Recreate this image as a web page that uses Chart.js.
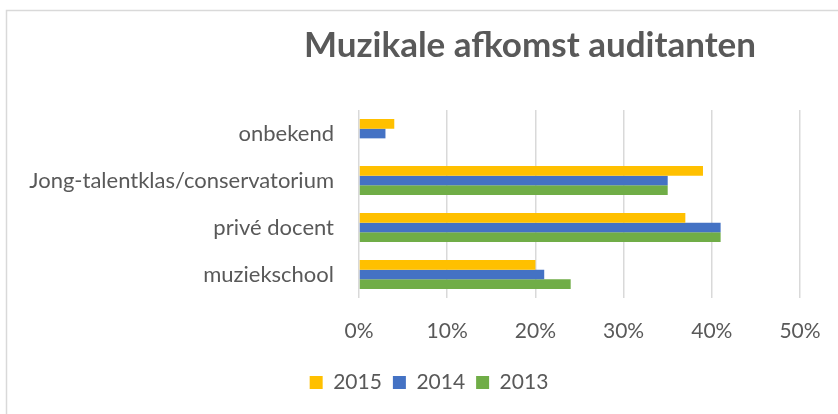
<!DOCTYPE html>
<html>
<head>
<meta charset="utf-8">
<script src="https://cdn.jsdelivr.net/npm/chart.js@4"></script>
<style>
  html, body { margin: 0; padding: 0; background: #fff; }
  #wrap { width: 838px; height: 414px; position: relative; }
</style>
</head>
<body>
<div id="wrap"><canvas id="chart"></canvas></div>
<script>
// categories, top to bottom
const categories = ["onbekend", "Jong-talentklas/conservatorium", "privé docent", "muziekschool"]
const years = ["2015", "2014", "2013"]
const values2015 = [0.04, 0.39, 0.37, 0.20]
const values2014 = [0.03, 0.35, 0.41, 0.21]
const values2013 = [0.00, 0.35, 0.41, 0.24]
const xTicks = [0, 0.1, 0.2, 0.3, 0.4, 0.5]

const titleText = "Muzikale afkomst auditanten"
const grey = "#595959"
const font = "Lato, 'Open Sans', sans-serif"

// frame + title drawn by hand (title sits off-centre in the original)
const decor = {
  id: "decor",
  beforeDraw(chart) {
    const ctx = chart.ctx
    ctx.save()
    ctx.strokeStyle = "#d9d9d9"
    ctx.lineWidth = 1.5
    ctx.strokeRect(6.5, 10.5, 1000, 1000)
    ctx.restore()
  },
  afterDraw(chart) {
    const ctx = chart.ctx
    ctx.save()
    ctx.fillStyle = grey
    ctx.font = "bold 35px " + font
    ctx.textAlign = "center"
    ctx.textBaseline = "alphabetic"
    ctx.fillText(titleText, 530, 57)
    ctx.restore()
  },
}

const ctx = document.getElementById("chart").getContext("2d")

new Chart(ctx, {
  type: "bar",
  data: {
    labels: categories,
    datasets: [
      { label: years[0], data: values2015, backgroundColor: "#FFC000" },
      { label: years[1], data: values2014, backgroundColor: "#4472C4" },
      { label: years[2], data: values2013, backgroundColor: "#70AD47" },
    ],
  },
  options: {
    indexAxis: "y",
    responsive: true,
    maintainAspectRatio: false,
    animation: false,
    datasets: {
      bar: { categoryPercentage: 0.62, barPercentage: 1 },
    },
    layout: {
      // small left offset keeps the legend centred where the original has it
      padding: { top: 110, right: 0, bottom: 11, left: 20 },
    },
    plugins: {
      title: { display: false },
      tooltip: { enabled: false },
      legend: {
        position: "bottom",
        labels: {
          boxWidth: 13,
          boxHeight: 13,
          padding: 11,
          color: grey,
          font: { size: 21, family: font },
        },
      },
    },
    scales: {
      x: {
        min: 0,
        max: 0.5,
        afterBuildTicks: (scale) => {
          scale.ticks = xTicks.map((v) => ({ value: v }))
        },
        afterFit: (scale) => {
          scale.height = 63
          scale.paddingRight = 38
        },
        grid: {
          color: "#d9d9d9",
          lineWidth: 1.5,
          drawTicks: false,
        },
        border: { display: false },
        ticks: {
          padding: 21,
          color: grey,
          font: { size: 21, family: font },
          callback: (v) => Math.round(v * 100) + "%",
        },
      },
      y: {
        afterFit: (scale) => {
          scale.width = 339
        },
        grid: { display: false, drawTicks: false },
        border: { display: false },
        ticks: {
          padding: 25,
          color: grey,
          font: { size: 22, family: font },
        },
      },
    },
  },
  plugins: [decor],
})
</script>
</body>
</html>
